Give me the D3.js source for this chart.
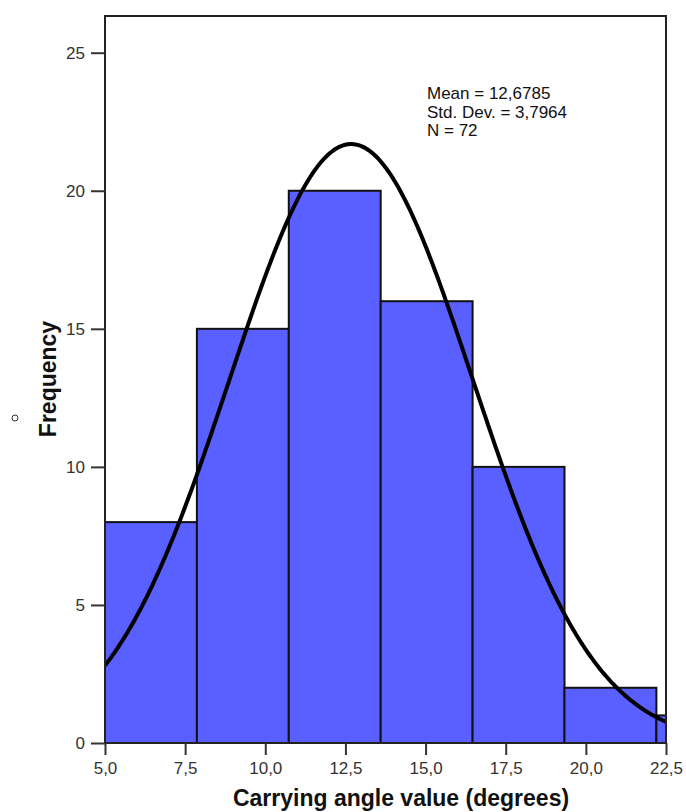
<!DOCTYPE html>
<html>
<head>
<meta charset="utf-8">
<script src="https://cdn.jsdelivr.net/npm/d3@7"></script>
<style>
  body { margin: 0; background: #fff; }
  svg { display: block; }
  .tick text { font-family: "Liberation Sans", Arial, sans-serif; font-size: 17px; fill: #333; }
  .tick line { stroke: #333; stroke-width: 2; }
</style>
</head>
<body>
<div id="chart"></div>
<script>
// Histogram data
const binStarts = [5.0, 7.867, 10.733, 13.6, 16.467, 19.333, 22.2];
const binWidth = 2.867;
const counts = [8, 15, 20, 16, 10, 2, 1];
const xTicks = [5.0, 7.5, 10.0, 12.5, 15.0, 17.5, 20.0, 22.5];
const yTicks = [0, 5, 10, 15, 20, 25];
const statLines = ["Mean = 12,6785", "Std. Dev. = 3,7964", "N = 72"];
const MEAN = 12.6785;
const SD = 3.7964;
const N = 72;

const WIDTH = 686;
const HEIGHT = 812;
const PLOT = { left: 105, right: 666, top: 16, bottom: 743 };

const svg = d3.select("#chart").append("svg")
    .attr("width", WIDTH).attr("height", HEIGHT);

const x = d3.scaleLinear().domain([5, 22.5]).range([PLOT.left, PLOT.right]);
const y = d3.scaleLinear().domain([0, 25]).range([PLOT.bottom, 52.7]);

// clip so the last bin gets cut at the frame edge
svg.append("clipPath").attr("id", "plot-clip")
  .append("rect")
    .attr("x", PLOT.left).attr("y", PLOT.top)
    .attr("width", PLOT.right - PLOT.left).attr("height", PLOT.bottom - PLOT.top);

const bins = binStarts.map((s, i) => ({ x0: s, x1: s + binWidth, count: counts[i] }));

const plot = svg.append("g").attr("clip-path", "url(#plot-clip)");

plot.selectAll(".bar")
  .data(bins)
  .enter().append("rect")
    .attr("class", "bar")
    .attr("x", d => x(d.x0))
    .attr("y", d => y(d.count))
    .attr("width", d => x(d.x1) - x(d.x0))
    .attr("height", d => y(0) - y(d.count))
    .attr("fill", "#5a5fff")
    .attr("stroke", "#111")
    .attr("stroke-width", 2);

// normal curve scaled to counts (N * bin width * pdf)
const curvePts = d3.range(0, 301).map(i => 5 + i * 17.5 / 300);
const normal = v => N * binWidth * Math.exp(-0.5 * ((v - MEAN) / SD) ** 2) / (SD * Math.sqrt(2 * Math.PI));

plot.append("path")
    .datum(curvePts)
    .attr("fill", "none")
    .attr("stroke", "#000")
    .attr("stroke-width", 4)
    .attr("d", d3.line().x(d => x(d)).y(d => y(normal(d))));

// frame
svg.append("rect")
    .attr("x", PLOT.left).attr("y", PLOT.top)
    .attr("width", PLOT.right - PLOT.left).attr("height", PLOT.bottom - PLOT.top)
    .attr("fill", "none")
    .attr("stroke", "#222")
    .attr("stroke-width", 2);

// axes
const yAxis = svg.append("g")
    .attr("transform", `translate(${PLOT.left},0)`)
    .call(d3.axisLeft(y).tickValues(yTicks).tickSize(14).tickPadding(6).tickFormat(d3.format("d")));
yAxis.select(".domain").remove();

const xAxis = svg.append("g")
    .attr("transform", `translate(0,${PLOT.bottom})`)
    .call(d3.axisBottom(x).tickValues(xTicks).tickSize(12).tickPadding(7)
        .tickFormat(d => d3.format(".1f")(d).replace(".", ",")));
xAxis.select(".domain").remove();

// stats box
svg.append("g").selectAll("text")
  .data(statLines)
  .enter().append("text")
    .attr("x", 427)
    .attr("y", (d, i) => 99 + i * 18.5)
    .attr("font-family", "Liberation Sans, Arial, sans-serif")
    .attr("font-size", 17)
    .attr("fill", "#111")
    .text(d => d);

// axis titles
svg.append("text")
    .attr("x", 401).attr("y", 806)
    .attr("text-anchor", "middle")
    .attr("font-family", "Liberation Sans, Arial, sans-serif")
    .attr("font-weight", "bold")
    .attr("font-size", 23)
    .attr("fill", "#111")
    .text("Carrying angle value (degrees)");

svg.append("text")
    .attr("transform", "translate(56,379) rotate(-90)")
    .attr("text-anchor", "middle")
    .attr("font-family", "Liberation Sans, Arial, sans-serif")
    .attr("font-weight", "bold")
    .attr("font-size", 23)
    .attr("fill", "#111")
    .text("Frequency");

// small stray marker on the left edge
svg.append("circle")
    .attr("cx", 15).attr("cy", 418).attr("r", 3)
    .attr("fill", "#fff")
    .attr("stroke", "#333")
    .attr("stroke-width", 1);
</script>
</body>
</html>
